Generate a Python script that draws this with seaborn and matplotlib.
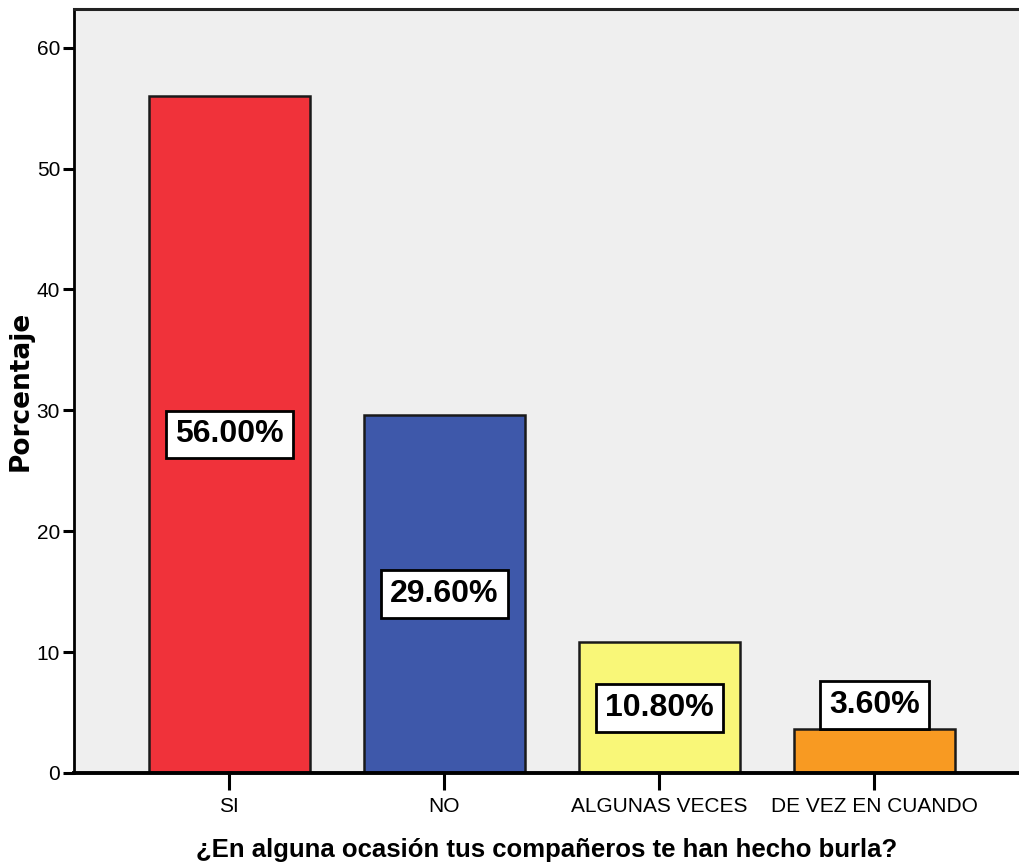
import pandas as pd
import seaborn as sns
from matplotlib import pyplot as plt

# Data
categories = ['SI', 'NO', 'ALGUNAS VECES', 'DE VEZ EN CUANDO']
percentages = [56.0, 29.6, 10.8, 3.6]
bar_colors = ['#F0323A', '#3E58AA', '#F9F778', '#F89A22']
y_ticks = [0, 10, 20, 30, 40, 50, 60]

df = pd.DataFrame({'respuesta': categories, 'porcentaje': percentages})

sns.set_style('white')
plt.rcParams['font.family'] = ['Liberation Sans Narrow', 'Liberation Sans', 'DejaVu Sans']
plt.rcParams['text.color'] = 'black'
plt.rcParams['axes.labelcolor'] = 'black'
plt.rcParams['xtick.color'] = 'black'
plt.rcParams['ytick.color'] = 'black'

fig = plt.figure(figsize=(10.2, 8.65), dpi=100)
ax = fig.add_axes([0.0725, 0.1064, 0.9275, 0.8832])
ax.set_facecolor('#EFEFEF')

sns.barplot(data=df, x='respuesta', y='porcentaje', hue='respuesta',
            palette=bar_colors, width=0.75, edgecolor='#1a1a1a',
            linewidth=1.8, saturation=1, legend=False, ax=ax)

ax.set_ylim(0, 63.2)
ax.set_xlim(-0.723, 3.677)
ax.set_yticks(y_ticks)
ax.set_yticklabels([str(t) for t in y_ticks], fontsize=15)
ax.tick_params(axis='y', direction='out', length=8, width=2.2, pad=2,
               left=True)
ax.tick_params(axis='x', direction='out', length=12, width=2.2, pad=5,
               bottom=True, labelsize=15)

for side in ['left', 'top', 'bottom']:
    ax.spines[side].set_visible(True)
    ax.spines[side].set_color('black')
ax.spines['left'].set_linewidth(2)
ax.spines['top'].set_linewidth(2.2)
ax.spines['top'].set_color('#222222')
ax.spines['bottom'].set_linewidth(2.8)
ax.spines['right'].set_visible(False)

box = dict(boxstyle='square,pad=0.28', facecolor='white',
           edgecolor='black', linewidth=2)
for i, val in enumerate(percentages):
    label = f'{val:.2f}%'
    if val < 5:
        ax.annotate(label, (i, val), xytext=(0, 7), textcoords='offset points',
                    ha='center', va='bottom', fontsize=23, fontweight='bold',
                    bbox=box)
    else:
        ax.text(i, val / 2, label, ha='center', va='center', fontsize=23,
                fontweight='bold', bbox=box)

ax.set_xlabel('¿En alguna ocasión tus compañeros te han hecho burla?',
              fontsize=18.5, fontweight='bold', labelpad=16)
ax.set_ylabel('Porcentaje', fontsize=19, fontweight='bold',
              family=['DejaVu Sans'], labelpad=2)

fig.savefig('out.png', dpi=100)
